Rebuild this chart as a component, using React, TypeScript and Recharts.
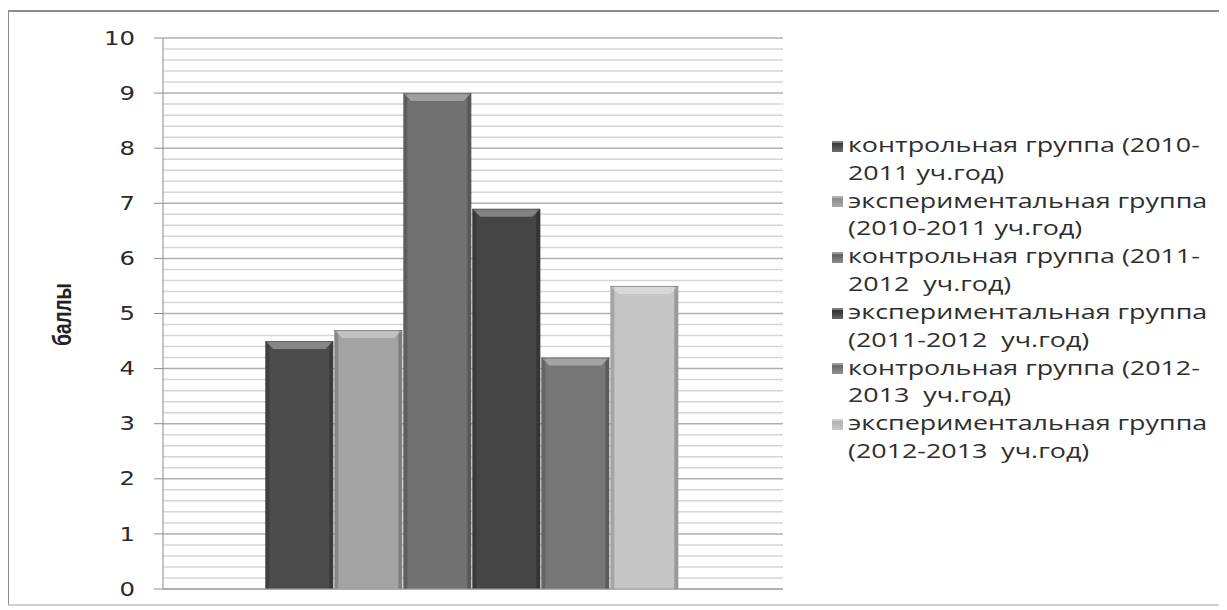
import React from 'react';
import { BarChart, Bar, XAxis, YAxis, CartesianGrid } from 'recharts';

const categories = [''];
const seriesNames = [
  'контрольная группа (2010-\n2011 уч.год)',
  'экспериментальная группа\n(2010-2011 уч.год)',
  'контрольная группа (2011-\n2012  уч.год)',
  'экспериментальная группа\n(2011-2012  уч.год)',
  'контрольная группа (2012-\n2013  уч.год)',
  'экспериментальная группа\n(2012-2013  уч.год)',
];
const seriesValues = [4.5, 4.7, 9.0, 6.9, 4.2, 5.5];
const seriesColors = ['#4c4c4c', '#a3a3a3', '#717171', '#454545', '#777777', '#c5c5c5'];
const legendColors = ['#3e3e3e', '#8e8e8e', '#646464', '#343434', '#6c6c6c', '#b4b4b4'];
const yTicks = [
  0, 0.2, 0.4, 0.6, 0.8, 1, 1.2, 1.4, 1.6, 1.8, 2, 2.2, 2.4, 2.6, 2.8, 3, 3.2, 3.4, 3.6, 3.8,
  4, 4.2, 4.4, 4.6, 4.8, 5, 5.2, 5.4, 5.6, 5.8, 6, 6.2, 6.4, 6.6, 6.8, 7, 7.2, 7.4, 7.6, 7.8,
  8, 8.2, 8.4, 8.6, 8.8, 9, 9.2, 9.4, 9.6, 9.8, 10,
];
const yLabel = 'баллы';

const TICK_SIZE = 9;
const TICK_MARGIN = 19;

const data = categories.map((c) => {
  const row: Record<string, any> = { cat: c };
  seriesValues.forEach((v, i) => {
    row['s' + i] = v;
  });
  return row;
});

const BevelBar = (props: any) => {
  const { x, y, width, height, fill } = props;
  if (!height || height <= 0) return null;
  const b = Math.min(8, height / 2);
  return (
    <g>
      <rect x={x} y={y} width={width} height={height} fill={fill} />
      <rect x={x} y={y} width={4} height={height} fill="rgba(0,0,0,0.16)" />
      <rect x={x + width - 4} y={y} width={4} height={height} fill="rgba(0,0,0,0.22)" />
      <polygon
        points={`${x},${y} ${x + width},${y} ${x + width - b},${y + b} ${x + b},${y + b}`}
        fill="rgba(255,255,255,0.33)"
      />
      <line x1={x} y1={y + 0.5} x2={x + width} y2={y + 0.5} stroke="rgba(0,0,0,0.3)" strokeWidth={1} />
    </g>
  );
};

const YTick = (props: any) => {
  const { x, y, payload } = props;
  const v = payload.value;
  if (!Number.isInteger(v)) return null;
  return (
    <g>
      <line
        x1={x + TICK_MARGIN}
        y1={y}
        x2={x + TICK_MARGIN + TICK_SIZE}
        y2={y}
        stroke="#8c8c8c"
        strokeWidth={1}
      />
      <text
        transform={`translate(${x},${y}) scale(1.25,1)`}
        x={0}
        y={0}
        textAnchor="end"
        dominantBaseline="central"
        fontFamily="DejaVu Sans"
        fontSize={19.5}
        fill="#2a2a2a"
      >
        {v}
      </text>
    </g>
  );
};

const GridLine = (props: any) => {
  const { x1, y1, x2, y2, index } = props;
  const major = index % 5 === 0;
  return (
    <line
      x1={x1}
      y1={y1}
      x2={x2}
      y2={y2}
      stroke={major ? '#b0b0b0' : '#d6d6d6'}
      strokeWidth={1.5}
    />
  );
};

const YLabel = (props: any) => {
  const vb = props.viewBox || { x: 54, y: 26, width: 100, height: 551 };
  const cx = vb.x - 1;
  const cy = vb.y + vb.height / 2 + 1;
  return (
    <text
      transform={`translate(${cx},${cy}) rotate(-90) scale(1,1.35)`}
      x={0}
      y={0}
      textAnchor="middle"
      dominantBaseline="central"
      fontFamily="'Liberation Sans', Arial, sans-serif"
      fontWeight="bold"
      fontSize={19}
      fill="#222"
    >
      {yLabel}
    </text>
  );
};

export default function App() {
  return (
    <div
      style={{
        position: 'relative',
        width: 1216,
        height: 592,
        marginLeft: -1,
        marginTop: 2,
        borderLeft: '2px solid #8c8c8c',
        borderTop: '2px solid #8c8c8c',
        borderBottom: '2px solid #d0d0d0',
        background: '#fff',
      }}
    >
      <div style={{ position: 'absolute', left: 0, top: 0 }}>
        <BarChart
          width={1210}
          height={592}
          data={data}
          margin={{ top: 26, right: 436, bottom: 0, left: 54 }}
          barCategoryGap="16.5%"
          barGap={1}
        >
          <CartesianGrid vertical={false} horizontal={(p: any) => <GridLine {...p} />} />
          <XAxis
            dataKey="cat"
            tick={false}
            tickLine={false}
            height={15}
            axisLine={{ stroke: '#9a9a9a' }}
          />
          <YAxis
            width={100}
            domain={[0, 10]}
            ticks={yTicks}
            interval={0}
            tickSize={TICK_SIZE}
            tickMargin={TICK_MARGIN}
            tickLine={false}
            axisLine={{ stroke: '#8c8c8c' }}
            tick={<YTick />}
            label={{ content: <YLabel /> }}
          />
          {seriesValues.map((_, i) => (
            <Bar
              key={i}
              dataKey={'s' + i}
              name={seriesNames[i]}
              fill={seriesColors[i]}
              shape={<BevelBar />}
              isAnimationActive={false}
            />
          ))}
        </BarChart>
      </div>
      <div style={{ position: 'absolute', left: 823, top: 119 }}>
        {seriesNames.map((n, i) => (
          <div key={i} style={{ display: 'flex', alignItems: 'flex-start', height: 55.7 }}>
            <div
              style={{
                width: 11,
                height: 11,
                marginTop: 9.5,
                marginRight: 5,
                background: `linear-gradient(${legendColors[i]}, ${legendColors[i]} 30%, rgba(255,255,255,0.25))`,
                backgroundColor: legendColors[i],
                boxShadow: 'inset 0 2px 0 rgba(255,255,255,0.35)',
              }}
            />
            <div
              style={{
                whiteSpace: 'pre',
                fontFamily: "'Open Sans', sans-serif",
                fontSize: 20.5,
                lineHeight: '27.7px',
                color: '#2e2e2e',
                transform: 'scaleX(1.31)',
                transformOrigin: 'left top',
              }}
            >
              {n}
            </div>
          </div>
        ))}
      </div>
    </div>
  );
}
